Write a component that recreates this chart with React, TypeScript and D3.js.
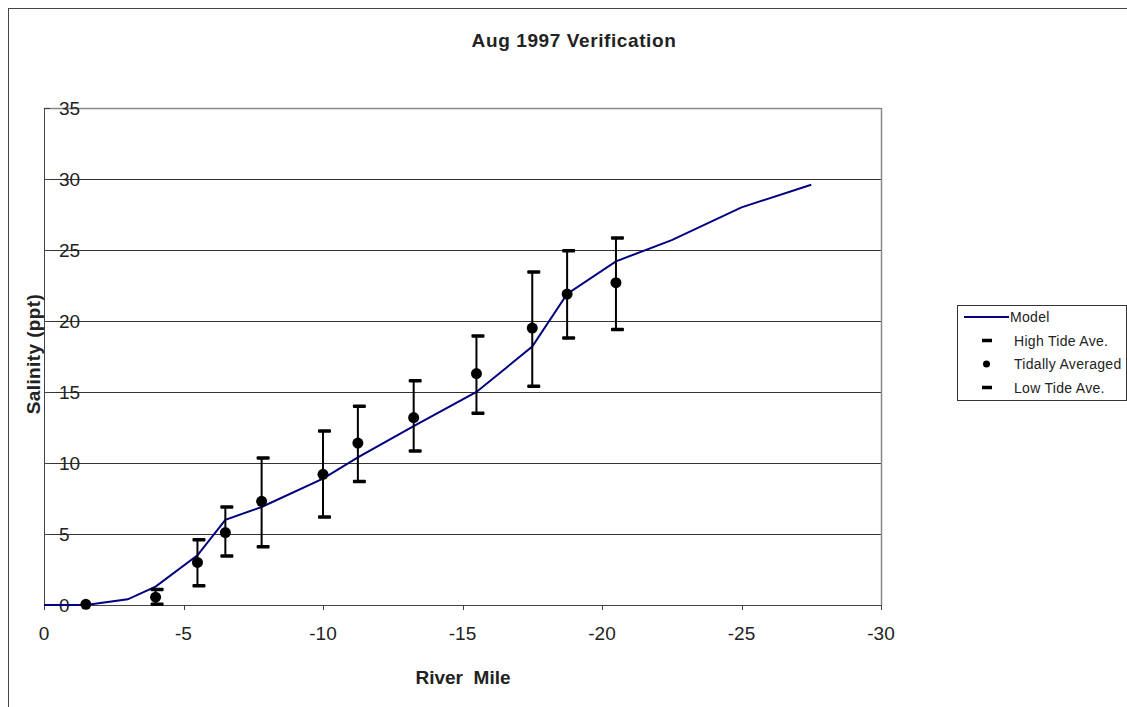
import React from 'react';
import * as d3 from 'd3';

// model run along the river
const modelMiles = [0, -1.5, -3, -4, -5.5, -6.5, -7.8, -10, -11.25, -13.25, -15.5, -17.5, -18.75, -20.5, -22.5, -25, -27.5];
const modelSalinity = [0, 0, 0.4, 1.3, 3.5, 6.0, 6.9, 8.9, 10.4, 12.6, 15.0, 18.2, 21.9, 24.2, 25.7, 28.0, 29.6];

// observed stations
const stationMiles = [-1.5, -4, -5.5, -6.5, -7.8, -10, -11.25, -13.25, -15.5, -17.5, -18.75, -20.5];
const tidalAvg = [0.05, 0.55, 3.0, 5.1, 7.3, 9.2, 11.4, 13.2, 16.3, 19.5, 21.9, 22.7];
const highTide: (number | null)[] = [null, 1.1, 4.6, 6.9, 10.35, 12.25, 14.0, 15.8, 18.95, 23.45, 24.95, 25.85];
const lowTide: (number | null)[] = [null, 0.05, 1.35, 3.45, 4.1, 6.2, 8.7, 10.85, 13.5, 15.4, 18.8, 19.4];

const xTicks = [0, -5, -10, -15, -20, -25, -30];
const yTicks = [0, 5, 10, 15, 20, 25, 30, 35];
const legendItems = ['Model', 'High Tide Ave.', 'Tidally Averaged', 'Low Tide Ave.'];

const W = 1127;
const H = 707;
const plot = { left: 44, right: 881, top: 108, bottom: 605 };
const font = 'Arial, "Liberation Sans", sans-serif';
const ink = '#222';

const App: React.FC = () => {
  const x = d3.scaleLinear().domain([0, -30]).range([plot.left, plot.right]);
  const y = d3.scaleLinear().domain([0, 35]).range([plot.bottom, plot.top]);

  const modelLine = d3.line<number>()
    .x((_, i) => x(modelMiles[i]))
    .y(d => y(d));

  const cap = (cx: number, v: number, key: string) => (
    <rect key={key} x={cx - 5} y={y(v) - 1.75} width={13} height={3.5} rx={1} fill="#000" />
  );

  const legendX = 957;
  const legendY = 305;
  const rowY = (i: number) => legendY + 12 + i * 23.5;

  return (
    <svg width={W} height={H} style={{ position: 'absolute', left: 0, top: 0, background: '#fff' }}>
      <rect x={8.5} y={8.5} width={W + 20} height={H + 20} fill="#fff" stroke="#444" strokeWidth={1} />

      <text x={574} y={47} textAnchor="middle" fontFamily={font} fontSize={19} fontWeight="bold" fill={ink} letterSpacing={0.6}>
        Aug 1997 Verification
      </text>

      {/* grid */}
      {yTicks.filter(t => t > 0 && t < 35).map(t => (
        <line key={'g' + t} x1={plot.left} x2={plot.right} y1={Math.round(y(t)) + 0.5} y2={Math.round(y(t)) + 0.5} stroke="#333" strokeWidth={1} />
      ))}
      {/* plot frame: top and right */}
      <line x1={plot.left} x2={plot.right} y1={plot.top + 0.5} y2={plot.top + 0.5} stroke="#888" strokeWidth={1.5} />
      <line x1={plot.right + 0.5} x2={plot.right + 0.5} y1={plot.top} y2={plot.bottom} stroke="#888" strokeWidth={1.5} />

      {/* axes */}
      <line x1={plot.left + 0.5} x2={plot.left + 0.5} y1={plot.top} y2={plot.bottom} stroke="#444" strokeWidth={1} />
      <line x1={plot.left} x2={plot.right} y1={plot.bottom + 0.5} y2={plot.bottom + 0.5} stroke="#444" strokeWidth={1} />
      {yTicks.map(t => (
        <g key={'y' + t}>
          <line x1={plot.left} x2={plot.left + 6} y1={Math.round(y(t)) + 0.5} y2={Math.round(y(t)) + 0.5} stroke="#444" />
          <text x={59} y={y(t) + 7} fontFamily={font} fontSize={19} fill={ink}>{t}</text>
        </g>
      ))}
      {xTicks.map(t => (
        <g key={'x' + t}>
          <line x1={Math.round(x(t)) + 0.5} x2={Math.round(x(t)) + 0.5} y1={plot.bottom} y2={plot.bottom + 5} stroke="#444" />
          <text x={x(t)} y={640} textAnchor="middle" fontFamily={font} fontSize={19} fill={ink}>{t}</text>
        </g>
      ))}

      <text x={463} y={684} textAnchor="middle" fontFamily={font} fontSize={19} fontWeight="bold" fill={ink} style={{ whiteSpace: 'pre' }}>
        {'River  Mile'}
      </text>
      <text transform="translate(40,354) rotate(-90)" textAnchor="middle" fontFamily={font} fontSize={19} fontWeight="bold" fill={ink} letterSpacing={0.4}>
        Salinity (ppt)
      </text>

      {/* model */}
      <path d={modelLine(modelSalinity) || ''} fill="none" stroke="#000080" strokeWidth={2} />

      {/* observations with tide range */}
      {stationMiles.map((m, i) => {
        const cx = x(m);
        const hi = highTide[i];
        const lo = lowTide[i];
        return (
          <g key={'s' + i}>
            {hi !== null && lo !== null && (
              <line x1={cx} x2={cx} y1={y(hi)} y2={y(lo)} stroke="#000" strokeWidth={2} />
            )}
            {hi !== null && cap(cx, hi, 'h')}
            {lo !== null && cap(cx, lo, 'l')}
            <circle cx={cx} cy={y(tidalAvg[i])} r={5.5} fill="#000" />
          </g>
        );
      })}

      {/* legend */}
      <rect x={legendX + 0.5} y={legendY + 0.5} width={169} height={95} fill="#fff" stroke="#333" />
      {legendItems.map((name, i) => {
        const ry = rowY(i);
        return (
          <g key={name}>
            {i === 0 && <line x1={964} x2={1009} y1={ry} y2={ry} stroke="#000080" strokeWidth={2} />}
            {(i === 1 || i === 3) && <rect x={982} y={ry - 1.75} width={10} height={3.5} fill="#000" />}
            {i === 2 && <circle cx={986.5} cy={ry} r={3.5} fill="#000" />}
            <text x={i === 0 ? 1010 : 1014} y={ry + 5} fontFamily={font} fontSize={14} fill={ink} letterSpacing={0.3}>{name}</text>
          </g>
        );
      })}
    </svg>
  );
};

export default App;
